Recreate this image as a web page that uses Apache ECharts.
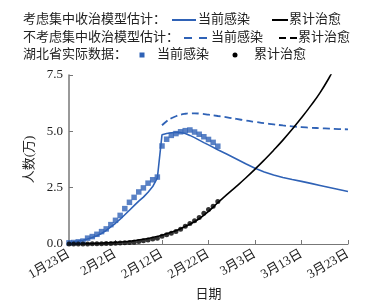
<!DOCTYPE html>
<html>
<head>
<meta charset="utf-8">
<script src="https://cdn.jsdelivr.net/npm/echarts@6/dist/echarts.min.js"></script>
<style>
  html, body { margin: 0; padding: 0; background: #fff; }
  #chart { width: 369px; height: 300px; }
</style>
</head>
<body>
<div id="chart"></div>
<script>
// x 轴: 距 1月23日 的天数
const tickLabels = ["1月23日", "2月2日", "2月12日", "2月22日", "3月3日", "3月13日", "3月23日"];

// 湖北省实际数据 (万人), 1月23日 ~ 2月24日 每日一点
const actualInfected = [
  0.05, 0.066, 0.096, 0.13, 0.26, 0.33, 0.43, 0.55, 0.67, 0.86,
  1.05, 1.27, 1.57, 1.85, 2.07, 2.31, 2.49, 2.70, 2.85, 2.97,
  4.35, 4.65, 4.82, 4.90, 4.98, 5.03, 5.06, 4.97, 4.87, 4.76,
  4.64, 4.51, 4.34
];
const actualCured = [
  0.003, 0.003, 0.004, 0.004, 0.005, 0.008, 0.009, 0.012, 0.017, 0.022,
  0.03, 0.04, 0.052, 0.063, 0.082, 0.11, 0.14, 0.18, 0.22, 0.26,
  0.34, 0.41, 0.48, 0.56, 0.66, 0.79, 0.91, 1.03, 1.18, 1.36,
  1.53, 1.67, 1.89
];

// 考虑集中收治模型: 当前感染
const modelDays = [0, 1, 2, 3, 4, 5, 6, 7, 8, 9, 10, 11, 12, 13, 14, 15, 16, 17, 18, 19,
  20, 21, 22, 23, 24, 25, 26, 27, 28, 29, 30, 32, 34, 36, 38, 40, 42, 44, 46, 48, 50, 52, 54, 56, 58, 60];
const modelInfected = [0.06, 0.09, 0.13, 0.17, 0.22, 0.29, 0.37, 0.47, 0.6, 0.76, 0.92, 1.1, 1.3, 1.5, 1.7, 1.9, 2.08, 2.3, 2.55, 2.93,
  4.85, 4.9, 4.94, 4.96, 4.95, 4.9, 4.82, 4.72, 4.61, 4.5, 4.4, 4.18, 3.98, 3.77, 3.56, 3.36, 3.2, 3.06, 2.95, 2.86, 2.78, 2.69, 2.6, 2.51, 2.42, 2.33];

// 不考虑集中收治模型: 当前感染
const noCentralDays = [20, 21, 22, 23, 24, 25, 26, 27, 28, 30, 32, 34, 36, 38, 40, 42, 44, 46, 48, 50, 52, 54, 56, 58, 60];
const noCentralInfected = [5.27, 5.45, 5.58, 5.67, 5.74, 5.78, 5.8, 5.8, 5.79, 5.74, 5.68, 5.62, 5.55, 5.48, 5.42, 5.36, 5.31, 5.26, 5.22, 5.19, 5.16, 5.14, 5.12, 5.1, 5.09];

// 模型: 累计治愈
const curedDays = [0, 2, 4, 6, 8, 10, 12, 14, 16, 18, 20, 22, 24, 26, 28, 30, 32, 34, 36, 38, 40, 42, 44, 46, 48, 50, 52, 54, 56, 57];
const modelCured = [0, 0.01, 0.02, 0.03, 0.05, 0.07, 0.1, 0.15, 0.21, 0.29, 0.39, 0.52, 0.68, 0.88, 1.12, 1.45, 1.83, 2.2, 2.56, 2.93, 3.32, 3.73, 4.16, 4.61, 5.09, 5.6, 6.14, 6.72, 7.4, 7.8];

const BLUE = "#2f62b6";
const FONT = "'Liberation Serif', 'Noto Sans CJK SC', serif";

const pairs = (xs, ys) => xs.map((x, i) => [x, ys[i]]);

const chart = echarts.init(document.getElementById("chart"));

const legendText = (x, y, text) => ({
  type: "text", left: x, top: y - 7,
  style: { text, fontSize: 13, fontFamily: FONT, fill: "#222" },
});
const legendLine = (x1, x2, y, color, dash) => ({
  type: "line",
  shape: { x1, y1: y, x2, y2: y },
  style: { stroke: color, lineWidth: 2, lineDash: dash || null },
});

chart.setOption({
  animation: false,
  grid: { left: 69, right: 21, top: 75, bottom: 56, containLabel: false, outerBoundsMode: "none" },
  xAxis: {
    type: "value",
    min: 0, max: 60, interval: 10,
    name: "日期",
    nameLocation: "middle",
    nameGap: 43,
    nameTextStyle: { fontSize: 13, fontFamily: FONT, color: "#222" },
    axisLine: { lineStyle: { color: "#777", width: 1 } },
    axisTick: { inside: true, length: 4, lineStyle: { color: "#777" } },
    splitLine: { show: false },
    axisLabel: {
      rotate: 30, margin: 9, fontSize: 13, fontFamily: FONT, color: "#222",
      formatter: (v) => tickLabels[v / 10],
    },
  },
  yAxis: {
    type: "value",
    min: 0, max: 7.5, interval: 2.5,
    name: "人数(万)",
    nameLocation: "middle",
    nameGap: 32,
    nameTextStyle: { fontSize: 13, fontFamily: FONT, color: "#222" },
    axisLine: { show: true, lineStyle: { color: "#777", width: 1.5 } },
    axisTick: { show: true, inside: true, length: 4, lineStyle: { color: "#777" } },
    splitLine: { show: false },
    axisLabel: {
      margin: 6, fontSize: 13, fontFamily: FONT, color: "#222",
      formatter: (v) => v.toFixed(1),
    },
  },
  series: [
    {
      name: "考虑集中收治-当前感染", type: "line", data: pairs(modelDays, modelInfected),
      showSymbol: false, smooth: false, lineStyle: { color: BLUE, width: 1.6 }, z: 3,
    },
    {
      name: "不考虑集中收治-当前感染", type: "line", data: pairs(noCentralDays, noCentralInfected),
      showSymbol: false, smooth: true, lineStyle: { color: BLUE, width: 1.8, type: [7, 4] }, z: 3,
    },
    {
      name: "模型-累计治愈", type: "line", data: pairs(curedDays, modelCured),
      showSymbol: false, smooth: true, lineStyle: { color: "#000", width: 1.6 }, z: 3,
    },
    {
      name: "实际-当前感染", type: "scatter", data: actualInfected.map((v, i) => [i, v]),
      symbol: "rect", symbolSize: 5.5, itemStyle: { color: BLUE }, z: 4,
    },
    {
      name: "实际-累计治愈", type: "scatter", data: actualCured.map((v, i) => [i, v]),
      symbol: "circle", symbolSize: 5, itemStyle: { color: "#000" }, z: 4,
    },
  ],
  graphic: [
    legendText(23, 20, "考虑集中收治模型估计："),
    legendLine(172, 196, 20, BLUE),
    legendText(198, 20, "当前感染"),
    legendLine(272, 288, 20, "#000"),
    legendText(289, 20, "累计治愈"),

    legendText(23, 38, "不考虑集中收治模型估计："),
    legendLine(184, 207, 38, BLUE, [8, 7]),
    legendText(211, 38, "当前感染"),
    legendLine(279, 297, 38, "#000", [7, 4]),
    legendText(298, 38, "累计治愈"),

    legendText(23, 55, "湖北省实际数据："),
    { type: "rect", shape: { x: 139.5, y: 52.5, width: 5, height: 5 }, style: { fill: BLUE } },
    legendText(157, 55, "当前感染"),
    { type: "circle", shape: { cx: 235, cy: 55, r: 2.5 }, style: { fill: "#000" } },
    legendText(254, 55, "累计治愈"),
  ],
});
</script>
</body>
</html>
